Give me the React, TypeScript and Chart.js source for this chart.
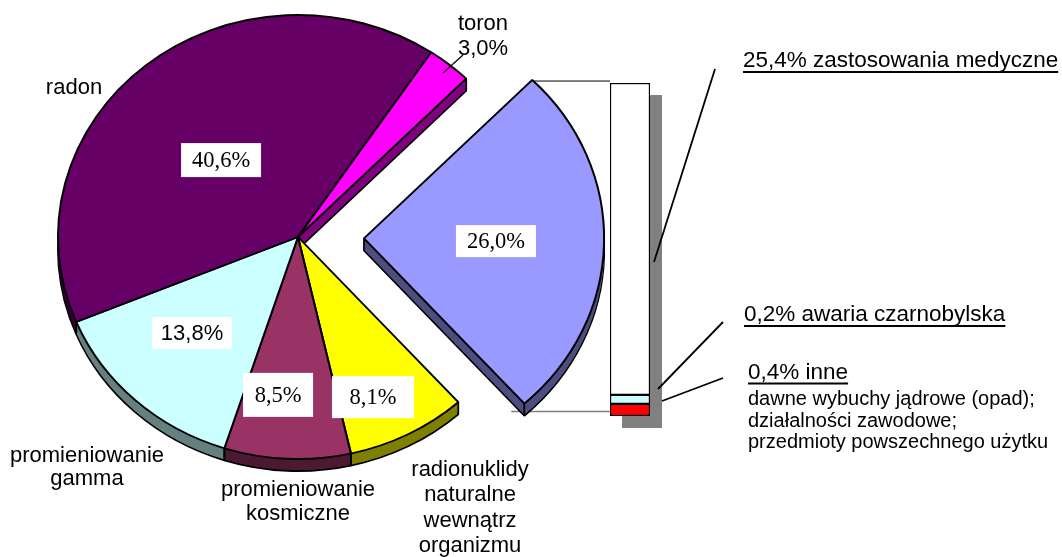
import React, { useEffect, useRef } from "react";
import { Chart, registerables } from "chart.js";

Chart.register(...registerables);

// ---------------- data ----------------
const sliceNames = [
  "zastosowania medyczne i inne",
  "radionuklidy naturalne wewnątrz organizmu",
  "promieniowanie kosmiczne",
  "promieniowanie gamma",
  "radon",
  "toron",
];
const sliceValues = [26.0, 8.1, 8.5, 13.8, 40.6, 3.0];
const slicePercentLabels = ["26,0%", "8,1%", "8,5%", "13,8%", "40,6%", "3,0%"];

const barNames = ["inne", "awaria czarnobylska", "zastosowania medyczne"];
const barValues = [0.95, 0.7, 24.35];
const barLabelTexts = ["0,4% inne", "0,2% awaria czarnobylska", "25,4% zastosowania medyczne"];
const inneDetails = [
  "dawne wybuchy jądrowe (opad);",
  "działalności zawodowe;",
  "przedmioty powszechnego użytku",
];

// ---------------- layout / style ----------------
const W = 1062;
const H = 557;
const CX = 298;
const CY = 237;
const R = 240;
const K = 0.925; // vertical squash of the tilted pie
const DEPTH = 12;
const EXPLODE = 66;
const ROTATION = 44.5;

const sliceColors = ["#9999FF", "#FFFF00", "#993366", "#CCFFFF", "#660066", "#FF00FF"];
const sliceSideColors = ["#4D4D80", "#808000", "#4D1A33", "#668080", "#330033", "#800080"];
const barColors = ["#FF0000", "#CCFFFF", "#FFFFFF"];

const SANS = "'Liberation Sans', Arial, sans-serif";
const SERIF = "'Liberation Serif', 'Times New Roman', serif";

// percent label placement inside slices: radius fraction, angle adjust (deg), box w/h, font
const pctFrac = [0.55, 0.786, 0.716, 0.618, 0.472];
const pctAdj = [0, 3.9, 4.1, 2.9, -3.4];
const pctBox = [
  [80, 32],
  [82, 42],
  [70, 44],
  [80, 32],
  [80, 34],
];
const pctFont = [SERIF, SERIF, SERIF, SANS, SERIF];

// category labels relative to pie centre: [dx, first baseline dy, line gap]
const catLines: string[][] = [
  [],
  ["radionuklidy", "naturalne", "wewnątrz", "organizmu"],
  ["promieniowanie", "kosmiczne"],
  ["promieniowanie", "gamma"],
  ["radon"],
  ["toron", slicePercentLabels[5]],
];
const catPos = [
  [0, 0, 0],
  [172, 239, 25.3],
  [0, 259, 24],
  [-211, 225, 23],
  [-224, -143, 0],
  [185, -207, 25],
];

const BAR_LEFT = 610;
const BAR_TOP = 83;
const BAR_W = 40;
const BAR_H = 333;
const SHADOW = 12;

function underlineText(ctx: CanvasRenderingContext2D, text: string, x: number, y: number, uy: number) {
  ctx.fillText(text, x, y);
  const w = ctx.measureText(text).width;
  ctx.beginPath();
  ctx.moveTo(x, y + uy);
  ctx.lineTo(x + w, y + uy);
  ctx.stroke();
}

function arcGeom(arc: any) {
  const off = (arc.options.offset || 0) / 4;
  const half = (arc.startAngle + arc.endAngle) / 2;
  return { ox: Math.cos(half) * off, oy: Math.sin(half) * off, off };
}

const pie3dPlugin = {
  id: "pie3d",
  beforeDatasetsDraw(chart: any) {
    const ctx: CanvasRenderingContext2D = chart.ctx;
    const arcs = chart.getDatasetMeta(0).data;
    const cx = arcs[0].x;
    const cy = arcs[0].y;
    const rad = arcs[0].outerRadius;

    // bottom connector (behind the exploded slice)
    const ex = arcs[0];
    const eg = arcGeom(ex);
    const endPt = [cx + eg.ox + rad * Math.cos(ex.endAngle), cy + K * (eg.oy + rad * Math.sin(ex.endAngle))];
    ctx.save();
    ctx.strokeStyle = "#808080";
    ctx.lineWidth = 1.5;
    ctx.beginPath();
    ctx.moveTo(endPt[0] - 13, endPt[1] + 8);
    ctx.lineTo(BAR_LEFT, endPt[1] + 8);
    ctx.stroke();
    ctx.restore();

    // extruded sides
    for (let d = DEPTH; d >= 1; d--) {
      arcs.forEach((arc: any, i: number) => {
        const o = arc.options;
        const bg = o.backgroundColor;
        const bw = o.borderWidth;
        try {
          o.backgroundColor = sliceSideColors[i];
          o.borderWidth = d === DEPTH ? bw : 0;
        } catch (e) {}
        ctx.save();
        ctx.translate(cx, cy + d);
        ctx.scale(1, K);
        ctx.translate(-cx, -cy);
        arc.draw(ctx);
        ctx.restore();
        try {
          o.backgroundColor = bg;
          o.borderWidth = bw;
        } catch (e) {}
      });
    }

    // vertical side edges
    ctx.save();
    ctx.strokeStyle = "#000";
    ctx.lineWidth = 1.8;
    arcs.forEach((arc: any) => {
      const g = arcGeom(arc);
      const pts = [arc.startAngle, arc.endAngle].map((a: number) => [
        cx + g.ox + rad * Math.cos(a),
        cy + K * (g.oy + rad * Math.sin(a)),
      ]);
      if (g.off > 0) pts.push([cx + g.ox, cy + K * g.oy]);
      pts.forEach(([x, y]) => {
        ctx.beginPath();
        ctx.moveTo(x, y);
        ctx.lineTo(x, y + DEPTH);
        ctx.stroke();
      });
    });
    ctx.restore();

    // ellipse transform for the top faces
    ctx.save();
    ctx.translate(cx, cy);
    ctx.scale(1, K);
    ctx.translate(-cx, -cy);
  },
  afterDatasetsDraw(chart: any) {
    chart.ctx.restore();
  },
  afterDraw(chart: any) {
    const ctx: CanvasRenderingContext2D = chart.ctx;
    const arcs = chart.getDatasetMeta(0).data;
    const cx = arcs[0].x;
    const cy = arcs[0].y;
    const rad = arcs[0].outerRadius;

    ctx.save();
    // top connector
    const ex = arcs[0];
    const eg = arcGeom(ex);
    const stPt = [cx + eg.ox + rad * Math.cos(ex.startAngle), cy + K * (eg.oy + rad * Math.sin(ex.startAngle))];
    ctx.strokeStyle = "#000";
    ctx.lineWidth = 1;
    ctx.beginPath();
    ctx.moveTo(stPt[0], stPt[1] + 1);
    ctx.lineTo(BAR_LEFT, stPt[1] + 1);
    ctx.stroke();

    // percent boxes
    for (let i = 0; i < 5; i++) {
      const arc = arcs[i];
      const g = arcGeom(arc);
      const a = (arc.startAngle + arc.endAngle) / 2 + (pctAdj[i] * Math.PI) / 180;
      const r = pctFrac[i] * rad;
      const x = cx + g.ox + r * Math.cos(a);
      const y = cy + K * (g.oy + r * Math.sin(a));
      const [bw, bh] = pctBox[i];
      ctx.fillStyle = "#FFFFFF";
      ctx.fillRect(x - bw / 2, y - bh / 2, bw, bh);
      ctx.fillStyle = "#000";
      ctx.textAlign = "center";
      ctx.textBaseline = "middle";
      ctx.font = pctFont[i] === SERIF ? `22.5px ${SERIF}` : `22px ${SANS}`;
      ctx.fillText(slicePercentLabels[i], x, y + 1);
    }

    // category labels
    ctx.font = `22px ${SANS}`;
    ctx.fillStyle = "#000";
    ctx.textAlign = "center";
    ctx.textBaseline = "alphabetic";
    catLines.forEach((lines, i) => {
      const [dx, dy, gap] = catPos[i];
      lines.forEach((t, j) => ctx.fillText(t, cx + dx, cy + dy + j * gap));
    });

    // toron leader
    ctx.lineWidth = 1.2;
    ctx.beginPath();
    ctx.moveTo(cx + 145, cy - 164);
    ctx.lineTo(cx + 165, cy - 182);
    ctx.stroke();

    // right side callouts
    ctx.lineWidth = 1.8;
    const callouts = [
      [715, 69, 654, 262],
      [723, 322, 658, 389],
      [723, 378, 662, 401],
    ];
    callouts.forEach(([x1, y1, x2, y2]) => {
      ctx.beginPath();
      ctx.moveTo(x1, y1);
      ctx.lineTo(x2, y2);
      ctx.stroke();
    });

    ctx.textAlign = "left";
    ctx.font = `22.5px ${SANS}`;
    ctx.lineWidth = 1.8;
    underlineText(ctx, barLabelTexts[2], 743, 67, 5);
    underlineText(ctx, barLabelTexts[1], 744, 321, 5);
    underlineText(ctx, barLabelTexts[0], 748, 379, 4.5);
    ctx.font = `20px ${SANS}`;
    inneDetails.forEach((t, j) => ctx.fillText(t, 748, 405 + j * 21.5));
    ctx.restore();
  },
};

const barShadowPlugin = {
  id: "barShadow",
  beforeDatasetsDraw(chart: any) {
    const ctx: CanvasRenderingContext2D = chart.ctx;
    let l = Infinity, r = -Infinity, t = Infinity, b = -Infinity;
    chart.data.datasets.forEach((_: any, i: number) => {
      chart.getDatasetMeta(i).data.forEach((el: any) => {
        l = Math.min(l, el.x - el.width / 2);
        r = Math.max(r, el.x + el.width / 2);
        t = Math.min(t, el.y, el.base);
        b = Math.max(b, el.y, el.base);
      });
    });
    ctx.save();
    ctx.fillStyle = "#808080";
    ctx.fillRect(l + SHADOW, t + SHADOW, r - l, b - t);
    ctx.restore();
  },
};

export default function App() {
  const pieRef = useRef<HTMLCanvasElement>(null);
  const barRef = useRef<HTMLCanvasElement>(null);

  useEffect(() => {
    const total = barValues.reduce((s, v) => s + v, 0);
    const bar = new Chart(barRef.current as HTMLCanvasElement, {
      type: "bar",
      data: {
        labels: [""],
        datasets: barValues.map((v, i) => ({
          label: barNames[i],
          data: [v],
          backgroundColor: barColors[i],
          borderColor: "#000000",
          borderWidth: 1.5,
          borderSkipped: false,
          barPercentage: 1,
          categoryPercentage: 1,
        })),
      },
      options: {
        responsive: false,
        animation: false,
        events: [],
        layout: { padding: { left: 0, top: 0, right: SHADOW, bottom: SHADOW } },
        scales: {
          x: { display: false, stacked: true },
          y: { display: false, stacked: true, min: 0, max: total },
        },
        plugins: { legend: { display: false }, tooltip: { enabled: false } },
      } as any,
      plugins: [barShadowPlugin],
    });

    const pie = new Chart(pieRef.current as HTMLCanvasElement, {
      type: "pie",
      data: {
        labels: sliceNames,
        datasets: [
          {
            data: sliceValues,
            backgroundColor: sliceColors,
            borderColor: "#000000",
            borderWidth: 2,
            offset: sliceValues.map((_, i) => (i === 0 ? EXPLODE * 4 : 0)),
            clip: false,
          } as any,
        ],
      },
      options: {
        responsive: false,
        animation: false,
        rotation: ROTATION,
        radius: R,
        events: [],
        layout: { padding: { left: 0, top: 0, right: W - 2 * CX, bottom: H - 2 * CY } },
        plugins: { legend: { display: false }, tooltip: { enabled: false } },
      } as any,
      plugins: [pie3dPlugin],
    });

    return () => {
      pie.destroy();
      bar.destroy();
    };
  }, []);

  return (
    <div style={{ position: "absolute", left: 0, top: 0, width: W, height: H, background: "#fff" }}>
      <canvas
        ref={barRef}
        width={BAR_W + SHADOW}
        height={BAR_H + SHADOW}
        style={{ position: "absolute", left: BAR_LEFT, top: BAR_TOP, width: BAR_W + SHADOW, height: BAR_H + SHADOW }}
      />
      <canvas ref={pieRef} width={W} height={H} style={{ position: "absolute", left: 0, top: 0, width: W, height: H }} />
    </div>
  );
}
